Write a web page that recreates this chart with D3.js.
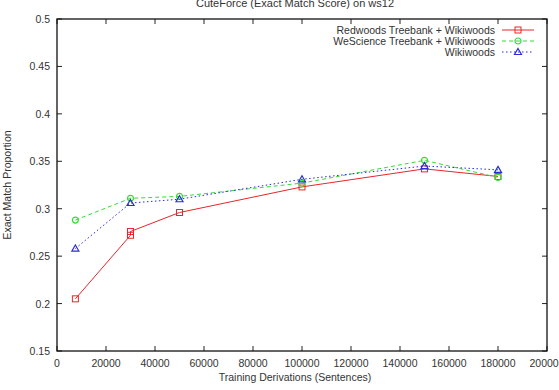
<!DOCTYPE html>
<html>
<head>
<meta charset="utf-8">
<script src="https://cdn.jsdelivr.net/npm/d3@7"></script>
<style>
  body { margin: 0; background: #fff; }
  text { font-family: "Liberation Sans", Arial, sans-serif; fill: #333; }
</style>
</head>
<body>
<svg id="chart" width="559" height="390"></svg>
<script>
// values
const redwoods = [[7500, 0.205], [30000, 0.272], [30000, 0.276], [50000, 0.296], [100000, 0.323], [150000, 0.342], [180000, 0.334]];
const wescience = [[7500, 0.288], [30000, 0.311], [50000, 0.313], [100000, 0.327], [150000, 0.351], [180000, 0.333]];
const wikiwoods = [[7500, 0.258], [30000, 0.306], [50000, 0.310], [100000, 0.331], [150000, 0.345], [180000, 0.341]];
const xTicks = [0, 20000, 40000, 60000, 80000, 100000, 120000, 140000, 160000, 180000, 200000];
const yTicks = [0.15, 0.2, 0.25, 0.3, 0.35, 0.4, 0.45, 0.5];

const series = [
  {name: 'Redwoods Treebank + Wikiwoods', data: redwoods, color: '#e8262b', dash: null, mark: 'square'},
  {name: 'WeScience Treebank + Wikiwoods', data: wescience, color: '#33dd33', dash: '4,3', mark: 'circle'},
  {name: 'Wikiwoods', data: wikiwoods, color: '#2a2ae0', dash: '1.5,2.5', mark: 'triangle'}
];

const margin = {top: 19, right: 12, bottom: 39, left: 57};
const svg = d3.select('#chart');
const W = 559, H = 390;
const w = W - margin.left - margin.right, h = H - margin.top - margin.bottom;

const x = d3.scaleLinear().domain([0, 200000]).range([0, w]);
const y = d3.scaleLinear().domain([0.15, 0.5]).range([h, 0]);

const g = svg.append('g').attr('transform', `translate(${margin.left},${margin.top})`);

// ticks, gnuplot style: inward and mirrored
const tl = 5;
const ticks = g.append('g').attr('stroke', '#222').attr('stroke-width', 1);
xTicks.forEach(t => {
  ticks.append('line').attr('x1', x(t)).attr('x2', x(t)).attr('y1', h).attr('y2', h - tl);
  ticks.append('line').attr('x1', x(t)).attr('x2', x(t)).attr('y1', 0).attr('y2', tl);
});
yTicks.forEach(t => {
  ticks.append('line').attr('x1', 0).attr('x2', tl).attr('y1', y(t)).attr('y2', y(t));
  ticks.append('line').attr('x1', w).attr('x2', w - tl).attr('y1', y(t)).attr('y2', y(t));
});

g.append('g').selectAll('text').data(xTicks).join('text')
  .attr('x', d => x(d)).attr('y', h + 16)
  .attr('text-anchor', 'middle').attr('font-size', 10.5)
  .text(d => d);
g.append('g').selectAll('text').data(yTicks).join('text')
  .attr('x', -7).attr('y', d => y(d) + 4)
  .attr('text-anchor', 'end').attr('font-size', 10.5)
  .text(d => d);

g.append('rect').attr('width', w).attr('height', h)
  .attr('fill', 'none').attr('stroke', '#111').attr('stroke-width', 1.3);

const line = d3.line().x(d => x(d[0])).y(d => y(d[1]));

const drawMark = (sel, type, color) => {
  if (type === 'square') {
    sel.append('rect').attr('x', -3).attr('y', -3).attr('width', 6).attr('height', 6)
      .attr('fill', 'none').attr('stroke', color).attr('stroke-width', 1);
  } else if (type === 'circle') {
    sel.append('circle').attr('r', 3).attr('fill', 'none').attr('stroke', color).attr('stroke-width', 1.2);
  } else {
    sel.append('path').attr('d', 'M0,-3.5L3.5,2.5L-3.5,2.5Z').attr('fill', 'none').attr('stroke', color).attr('stroke-width', 1.2);
  }
};

series.forEach(s => {
  g.append('path').datum(s.data)
    .attr('fill', 'none').attr('stroke', s.color).attr('stroke-width', 1)
    .attr('stroke-dasharray', s.dash)
    .attr('d', line);
  g.append('g').selectAll('g').data(s.data).join('g')
    .attr('transform', d => `translate(${x(d[0])},${y(d[1])})`)
    .each((d, i, t) => drawMark(d3.select(t[i]), s.mark, s.color));
});

// legend
const lg = g.append('g').attr('transform', `translate(${w - 45},11)`);
series.forEach((s, i) => {
  const row = lg.append('g').attr('transform', `translate(0,${i * 11})`);
  row.append('text').attr('x', -7).attr('y', 4).attr('text-anchor', 'end')
    .attr('font-size', 10.5).text(s.name);
  row.append('line').attr('x1', 0).attr('x2', 32).attr('y1', 0).attr('y2', 0)
    .attr('stroke', s.color).attr('stroke-dasharray', s.dash);
  drawMark(row.append('g').attr('transform', 'translate(16,0)'), s.mark, s.color);
});

// titles
svg.append('text').attr('x', 295).attr('y', 7).attr('text-anchor', 'middle')
  .attr('font-size', 11).text('CuteForce (Exact Match Score) on ws12');
svg.append('text').attr('x', 295).attr('y', 381).attr('text-anchor', 'middle')
  .attr('font-size', 10.5).text('Training Derivations (Sentences)');
svg.append('text').attr('transform', `translate(11,${margin.top + h / 2}) rotate(-90)`)
  .attr('text-anchor', 'middle').attr('font-size', 10.5).text('Exact Match Proportion');
</script>
</body>
</html>
